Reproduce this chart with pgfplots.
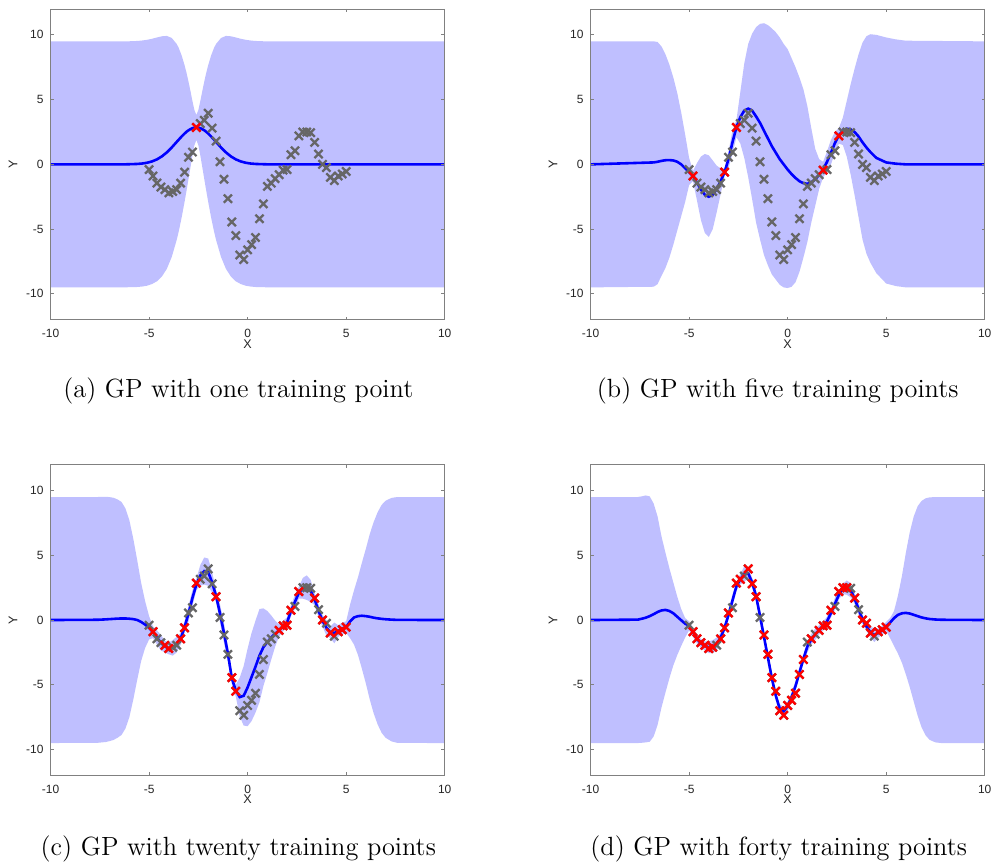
\documentclass[border=0pt]{standalone}
\usepackage{fontspec}
\usepackage{pgfplots}
\usepackage{pgfplotstable}
\pgfplotsset{compat=1.18}
\usepgfplotslibrary{fillbetween}
\newfontfamily\helv{Liberation Sans}
\definecolor{bandc}{RGB}{191,191,255}
\definecolor{meanc}{RGB}{0,0,255}
\definecolor{datac}{RGB}{102,102,102}
\definecolor{trainc}{RGB}{255,0,0}
\definecolor{axc}{RGB}{128,128,128}
\definecolor{labc}{RGB}{38,38,38}

% true function samples
\pgfplotstableread{
x y
-5.0 -0.40
-4.8 -0.90
-4.6 -1.45
-4.4 -1.75
-4.2 -1.95
-4.0 -2.20
-3.8 -2.10
-3.6 -1.95
-3.4 -1.45
-3.2 -0.60
-3.0 0.55
-2.8 0.95
-2.6 2.85
-2.4 3.15
-2.2 3.40
-2.0 3.95
-1.8 2.80
-1.6 1.80
-1.4 0.20
-1.2 -1.15
-1.0 -2.65
-0.8 -4.45
-0.6 -5.50
-0.4 -7.00
-0.2 -7.35
0.0 -6.60
0.2 -6.20
0.4 -5.65
0.6 -4.20
0.8 -3.05
1.0 -1.70
1.2 -1.45
1.4 -1.10
1.6 -0.80
1.8 -0.45
2.0 -0.40
2.2 0.75
2.4 1.05
2.6 2.20
2.8 2.50
3.0 2.50
3.2 2.45
3.4 1.70
3.6 0.80
3.8 0.00
4.0 -0.25
4.2 -1.00
4.4 -1.25
4.6 -0.90
4.8 -0.75
5.0 -0.55
}\datatab

% training points of each panel
\pgfplotstableread{
x y
-2.6 2.85
}\trA
\pgfplotstableread{
x y
-4.8 -0.90
-3.2 -0.60
-2.6 2.85
1.8 -0.45
2.6 2.20
}\trB
\pgfplotstableread{
x y
-4.8 -0.90
-4.2 -1.95
-4.0 -2.20
-3.4 -1.45
-3.2 -0.60
-2.6 2.85
-1.6 1.80
-0.8 -4.45
-0.6 -5.50
1.6 -0.80
1.8 -0.45
2.0 -0.40
2.2 0.75
2.6 2.20
3.4 1.70
3.8 0.00
4.2 -1.00
4.6 -0.90
4.8 -0.75
5.0 -0.55
}\trC
\pgfplotstableread{
x y
-4.8 -0.90
-4.6 -1.45
-4.4 -1.75
-4.2 -1.95
-4.0 -2.20
-3.8 -2.10
-3.4 -1.45
-3.2 -0.60
-3.0 0.55
-2.6 2.85
-2.4 3.15
-2.0 3.95
-1.8 2.80
-1.6 1.80
-1.2 -1.15
-1.0 -2.65
-0.8 -4.45
-0.6 -5.50
-0.4 -7.00
-0.2 -7.35
0.0 -6.60
0.2 -6.20
0.4 -5.65
0.6 -4.20
0.8 -3.05
1.2 -1.45
1.6 -0.80
1.8 -0.45
2.0 -0.40
2.2 0.75
2.6 2.20
2.8 2.50
3.0 2.50
3.4 1.70
3.8 0.00
4.0 -0.25
4.2 -1.00
4.6 -0.90
4.8 -0.75
5.0 -0.55
}\trD

% panel (a): mean m, band u / l
\pgfplotstableread{
x m u l
-10 0 9.5 -9.5
-6.6 0 9.5 -9.5
-6.1 0.006 9.5 -9.49
-5.6 0.032 9.53 -9.47
-5.35 0.065 9.565 -9.435
-5.1 0.125 9.62 -9.37
-4.85 0.227 9.70 -9.24
-4.6 0.386 9.80 -9.03
-4.35 0.616 9.89 -8.66
-4.1 0.925 9.92 -8.07
-3.85 1.305 9.76 -7.15
-3.6 1.73 9.30 -5.84
-3.5 1.90 9.01 -5.21
-3.35 2.15 8.42 -4.12
-3.2 2.38 7.66 -2.90
-3.1 2.52 7.07 -2.03
-3.0 2.63 6.39 -1.13
-2.9 2.72 5.66 -0.22
-2.8 2.79 4.89 0.69
-2.7 2.836 4.19 1.48
-2.6 2.85 3.82 1.88
-2.5 2.836 4.19 1.48
-2.4 2.79 4.89 0.69
-2.3 2.72 5.66 -0.22
-2.2 2.63 6.39 -1.13
-2.1 2.52 7.07 -2.03
-2.0 2.38 7.66 -2.90
-1.85 2.15 8.42 -4.12
-1.7 1.90 9.01 -5.21
-1.6 1.73 9.30 -5.84
-1.35 1.305 9.76 -7.15
-1.1 0.925 9.92 -8.07
-0.85 0.616 9.89 -8.66
-0.6 0.386 9.80 -9.03
-0.35 0.227 9.70 -9.24
-0.1 0.125 9.62 -9.37
0.15 0.065 9.565 -9.435
0.4 0.032 9.53 -9.47
0.9 0.006 9.5 -9.49
1.4 0 9.5 -9.5
10 0 9.5 -9.5
}\tabA

% panel (b)
\pgfplotstableread{
x m u l
-10 0 9.5 -9.5
-6.8 0.15 9.5 -9.45
-6.6 0.2 9.45 -9.25
-6.4 0.27 9.1 -8.6
-6.2 0.32 8.5 -8.0
-6.0 0.33 7.7 -7.2
-5.8 0.3 6.7 -6.2
-5.6 0.2 5.5 -5.1
-5.4 0.0 4.0 -4.0
-5.2 -0.3 2.3 -2.9
-5.0 -0.6 0.5 -1.6
-4.8 -0.9 -0.5 -1.3
-4.6 -1.4 0.1 -2.8
-4.4 -1.95 0.6 -4.3
-4.2 -2.35 0.8 -5.3
-4.0 -2.5 0.7 -5.6
-3.8 -2.35 0.3 -5.0
-3.6 -1.9 -0.1 -3.7
-3.4 -1.3 -0.3 -2.3
-3.2 -0.6 -0.3 -0.9
-3.0 0.4 1.0 -0.3
-2.8 1.7 2.6 0.8
-2.6 2.85 3.4 2.1
-2.4 3.65 5.6 1.6
-2.2 4.15 7.8 0.5
-2.0 4.3 9.3 -1.0
-1.8 4.15 10.1 -2.7
-1.6 3.7 10.6 -4.5
-1.4 3.2 10.85 -5.8
-1.2 2.6 10.9 -7.0
-1.0 2.0 10.75 -7.8
-0.8 1.4 10.5 -8.5
-0.6 0.9 10.2 -8.9
-0.4 0.4 9.8 -9.3
-0.2 0.0 9.3 -9.5
0.0 -0.4 8.9 -9.55
0.2 -0.75 8.2 -9.45
0.4 -1.05 7.5 -9.1
0.6 -1.3 6.7 -8.3
0.8 -1.45 5.8 -7.2
1.0 -1.5 4.5 -6.0
1.2 -1.4 2.8 -4.5
1.4 -1.15 1.2 -3.2
1.6 -0.8 0.4 -1.9
1.8 -0.4 0.2 -1.0
2.0 0.2 1.0 -0.6
2.2 0.9 1.9 0.0
2.4 1.65 2.5 0.9
2.6 2.25 2.8 1.6
2.8 2.6 3.6 1.5
3.0 2.75 4.9 0.6
3.2 2.7 6.2 -0.8
3.4 2.5 7.4 -2.4
3.6 2.15 8.5 -4.1
3.8 1.7 9.4 -5.8
4.0 1.3 9.9 -6.9
4.2 0.95 10.05 -7.6
4.5 0.5 10.0 -8.4
5.0 0.15 9.8 -9.2
5.5 0.05 9.65 -9.4
6.0 0.0 9.55 -9.5
10 0 9.5 -9.5
}\tabB

% panel (c)
\pgfplotstableread{
x m u l
-10 0 9.5 -9.5
-7.6 0.02 9.5 -9.48
-7.2 0.05 9.52 -9.42
-7.0 0.07 9.49 -9.35
-6.8 0.09 9.44 -9.26
-6.6 0.11 9.31 -9.09
-6.4 0.12 9.12 -8.88
-6.2 0.12 8.62 -8.38
-6.0 0.1 7.7 -7.5
-5.8 0.07 6.27 -6.13
-5.6 0.0 4.6 -4.6
-5.4 -0.15 2.85 -3.15
-5.2 -0.35 1.45 -2.15
-5.0 -0.6 0.3 -1.5
-4.8 -0.95 -0.5 -1.4
-4.6 -1.35 -0.8 -1.9
-4.4 -1.75 -1.15 -2.35
-4.2 -2.05 -1.6 -2.5
-4.0 -2.2 -1.75 -2.65
-3.8 -2.15 -1.55 -2.75
-3.6 -1.9 -1.3 -2.5
-3.4 -1.45 -1.0 -1.9
-3.2 -0.55 -0.1 -1.0
-3.0 0.5 1.1 -0.1
-2.8 1.7 2.3 1.1
-2.6 2.75 3.2 2.3
-2.4 3.45 4.25 2.65
-2.2 3.78 4.83 2.73
-2.0 3.7 4.75 2.65
-1.8 2.9 3.7 2.1
-1.6 1.85 2.3 1.4
-1.4 0.5 1.2 -0.2
-1.2 -1.0 -0.25 -1.75
-1.0 -2.6 -2.0 -3.2
-0.8 -4.5 -4.05 -4.95
-0.6 -5.45 -5.0 -5.9
-0.4 -5.95 -4.45 -7.45
-0.2 -5.85 -3.55 -8.15
0.0 -5.2 -2.2 -8.2
0.2 -4.4 -1.0 -7.8
0.4 -3.6 -0.05 -7.15
0.6 -2.75 0.85 -6.35
0.8 -2.1 0.9 -5.1
1.0 -1.7 0.7 -4.1
1.2 -1.35 0.35 -3.05
1.4 -1.05 -0.05 -2.05
1.6 -0.8 -0.35 -1.25
1.8 -0.45 -0.05 -0.85
2.0 -0.2 0.2 -0.6
2.2 0.7 1.1 0.3
2.4 1.4 1.95 0.85
2.6 2.1 2.55 1.65
2.8 2.45 3.25 1.65
3.0 2.5 3.45 1.55
3.2 2.25 3.1 1.4
3.4 1.6 2.05 1.15
3.6 0.7 1.2 0.2
3.8 -0.05 0.4 -0.5
4.0 -0.6 0.0 -1.2
4.2 -0.95 -0.5 -1.4
4.4 -1.0 -0.2 -1.8
4.6 -0.85 -0.4 -1.3
4.8 -0.65 -0.2 -1.1
5.0 -0.55 -0.1 -1.0
5.2 -0.1 1.2 -1.4
5.4 0.2 2.3 -1.9
5.6 0.3 3.3 -2.7
5.8 0.33 4.43 -3.77
6.0 0.3 5.5 -4.9
6.2 0.25 6.65 -6.15
6.4 0.18 7.58 -7.22
6.6 0.13 8.33 -8.07
6.8 0.09 8.89 -8.71
7.0 0.06 9.21 -9.09
7.3 0.03 9.43 -9.37
7.6 0.01 9.5 -9.49
10 0 9.5 -9.5
}\tabC

% panel (d)
\pgfplotstableread{
x m u l
-10 0 9.5 -9.5
-7.6 0.03 9.5 -9.5
-7.4 0.1 9.55 -9.48
-7.2 0.18 9.62 -9.45
-7.0 0.3 9.55 -9.4
-6.8 0.45 9.0 -9.0
-6.6 0.62 8.0 -8.1
-6.4 0.74 6.45 -6.75
-6.2 0.78 5.2 -5.6
-6.0 0.7 4.0 -4.5
-5.8 0.52 2.9 -3.5
-5.6 0.25 1.8 -2.7
-5.4 -0.02 0.85 -2.0
-5.2 -0.28 0.15 -1.35
-5.0 -0.45 -0.1 -0.8
-4.8 -0.95 -0.6 -1.3
-4.6 -1.45 -1.1 -1.8
-4.4 -1.8 -1.45 -2.15
-4.2 -2.0 -1.65 -2.35
-4.0 -2.1 -1.65 -2.55
-3.8 -2.05 -1.55 -2.55
-3.6 -1.85 -1.35 -2.35
-3.4 -1.35 -1.0 -1.7
-3.2 -0.6 -0.25 -0.95
-3.0 0.4 0.75 0.05
-2.8 1.5 1.95 1.05
-2.6 2.6 2.95 2.25
-2.4 3.15 3.55 2.75
-2.2 3.55 4.15 2.95
-2.0 3.6 4.0 3.2
-1.8 2.9 3.25 2.55
-1.6 1.85 2.2 1.5
-1.4 0.3 0.75 -0.15
-1.2 -1.3 -0.95 -1.65
-1.0 -2.9 -2.55 -3.25
-0.8 -4.5 -4.15 -4.85
-0.6 -5.85 -5.5 -6.2
-0.4 -6.85 -6.5 -7.2
-0.2 -7.05 -6.7 -7.4
0.0 -6.65 -6.3 -7.0
0.2 -5.95 -5.6 -6.3
0.4 -5.1 -4.75 -5.45
0.6 -4.05 -3.7 -4.4
0.8 -3.0 -2.65 -3.35
1.0 -2.05 -1.6 -2.5
1.2 -1.5 -1.1 -1.9
1.4 -1.1 -0.65 -1.55
1.6 -0.75 -0.4 -1.1
1.8 -0.45 -0.1 -0.8
2.0 -0.1 0.25 -0.45
2.2 0.55 0.9 0.2
2.4 1.25 1.7 0.8
2.6 1.95 2.3 1.6
2.8 2.4 2.8 2.0
3.0 2.5 3.05 1.95
3.2 2.3 2.85 1.75
3.4 1.65 2.05 1.25
3.6 0.85 1.3 0.4
3.8 0.05 0.4 -0.3
4.0 -0.5 -0.15 -0.85
4.2 -0.95 -0.55 -1.35
4.4 -1.15 -0.6 -1.7
4.6 -1.0 -0.65 -1.35
4.8 -0.8 -0.45 -1.15
5.0 -0.5 -0.15 -0.85
5.2 -0.2 0.15 -1.4
5.4 0.15 0.7 -2.0
5.6 0.4 1.9 -2.6
5.8 0.52 3.4 -3.3
6.0 0.55 5.2 -4.2
6.2 0.5 6.8 -5.2
6.4 0.4 8.0 -6.3
6.6 0.3 8.8 -7.4
6.8 0.2 9.2 -8.3
7.0 0.13 9.4 -8.9
7.2 0.08 9.47 -9.25
7.5 0.04 9.5 -9.45
7.8 0.02 9.5 -9.5
10 0 9.5 -9.5
}\tabD

\pgfplotsset{gp/.style={
  scale only axis, width=197.65pt, height=155.85pt,
  xmin=-10, xmax=10, ymin=-12, ymax=12,
  xtick={-10,-5,0,5,10}, ytick={-10,-5,0,5,10},
  xticklabels={-10,-5,0,5,10}, yticklabels={-10,-5,0,5,10},
  tick align=inside, tick pos=both, major tick length=1.6pt,
  axis line style={axc, line width=0.45pt},
  tick style={axc, line width=0.45pt},
  ticklabel style={font=\helv\fontsize{6}{7}\selectfont, text=labc},
  xticklabel style={yshift=-1.2pt},
  xlabel={X}, ylabel={Y},
  label style={font=\helv\fontsize{6.3}{7}\selectfont, text=labc},
  xlabel style={at={(axis description cs:0.5,-0.078)}, anchor=center},
  ylabel style={at={(axis description cs:-0.0954,0.5)}, anchor=center},
  axis on top, anchor=south west},
  datx/.style={datac, only marks, mark=x, mark size=2.9pt, mark options={line width=1.15pt}},
  trnx/.style={trainc, only marks, mark=x, mark size=2.9pt, mark options={line width=1.15pt}}}

\begin{document}
\begin{tikzpicture}

\begin{axis}[gp, at={(25.35pt,-160.35pt)}]
\addplot[draw=none, forget plot, name path=ua] table[x=x,y=u]{\tabA};
\addplot[draw=none, forget plot, name path=la] table[x=x,y=l]{\tabA};
\addplot[bandc, draw=none] fill between[of=ua and la];
\addplot[meanc, line width=1.3pt, mark=none] table[x=x,y=m]{\tabA};
\addplot[datx] table[x=x,y=y]{\datatab};
\addplot[trnx] table[x=x,y=y]{\trA};
\end{axis}

\begin{axis}[gp, at={(296.15pt,-160.35pt)}]
\addplot[draw=none, forget plot, name path=ub] table[x=x,y=u]{\tabB};
\addplot[draw=none, forget plot, name path=lb] table[x=x,y=l]{\tabB};
\addplot[bandc, draw=none] fill between[of=ub and lb];
\addplot[meanc, line width=1.3pt, mark=none] table[x=x,y=m]{\tabB};
\addplot[datx] table[x=x,y=y]{\datatab};
\addplot[trnx] table[x=x,y=y]{\trB};
\end{axis}

\begin{axis}[gp, at={(25.35pt,-388.85pt)}]
\addplot[draw=none, forget plot, name path=uc] table[x=x,y=u]{\tabC};
\addplot[draw=none, forget plot, name path=lc] table[x=x,y=l]{\tabC};
\addplot[bandc, draw=none] fill between[of=uc and lc];
\addplot[meanc, line width=1.3pt, mark=none] table[x=x,y=m]{\tabC};
\addplot[datx] table[x=x,y=y]{\datatab};
\addplot[trnx] table[x=x,y=y]{\trC};
\end{axis}

\begin{axis}[gp, at={(296.15pt,-388.85pt)}]
\addplot[draw=none, forget plot, name path=ud] table[x=x,y=u]{\tabD};
\addplot[draw=none, forget plot, name path=ld] table[x=x,y=l]{\tabD};
\addplot[bandc, draw=none] fill between[of=ud and ld];
\addplot[meanc, line width=1.3pt, mark=none] table[x=x,y=m]{\tabD};
\addplot[datx] table[x=x,y=y]{\datatab};
\addplot[trnx] table[x=x,y=y]{\trD};
\end{axis}

\tikzset{capt/.style={font=\fontsize{13.2}{16}\selectfont, inner sep=0pt}}
\node[capt] at (119.5pt,-195.85pt) {(a) GP with one training point};
\node[capt] at (390pt,-195.85pt) {(b) GP with five training points};
\node[capt] at (119.5pt,-425.5pt) {(c) GP with twenty training points};
\node[capt] at (390.5pt,-425.5pt) {(d) GP with forty training points};
\path (0,0) rectangle (499pt,-433pt);
\end{tikzpicture}
\end{document}
